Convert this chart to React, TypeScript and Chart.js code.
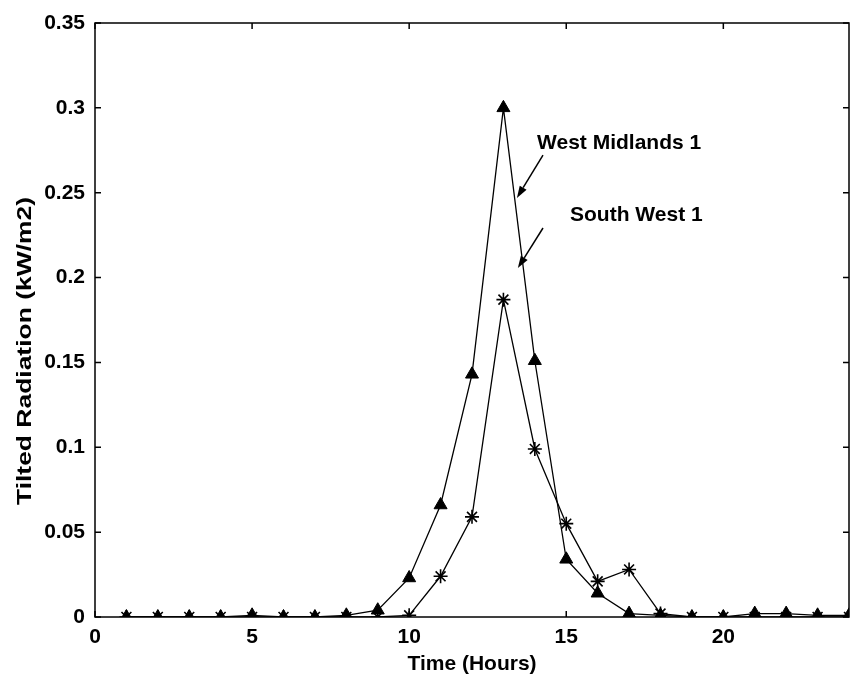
import React, { useEffect, useRef } from "react";
import { Chart, registerables } from "chart.js";

Chart.register(...registerables);

const hours = [1, 2, 3, 4, 5, 6, 7, 8, 9, 10, 11, 12, 13, 14, 15, 16, 17, 18, 19, 20, 21, 22, 23, 24];
const westMidlands = [0, 0, 0, 0, 0.001, 0, 0, 0.001, 0.004, 0.023, 0.066, 0.143, 0.3, 0.151, 0.034, 0.014, 0.002, 0.001, 0, 0, 0.002, 0.002, 0.001, 0.001];
const southWest = [0, 0, 0, 0, 0, 0, 0, 0, 0, 0.001, 0.024, 0.059, 0.187, 0.099, 0.055, 0.021, 0.028, 0.002, 0, 0, 0, 0, 0, 0];
const xTickValues = [0, 5, 10, 15, 20];
const yTickValues = [0, 0.05, 0.1, 0.15, 0.2, 0.25, 0.3, 0.35];
const xTitle = "Time (Hours)";
const yTitle = "Tilted Radiation (kW/m2)";
const labelWM = "West Midlands 1";
const labelSW = "South West 1";
// annotation anchors in data units: [labelX, labelY, arrowFromX, arrowFromY, arrowToX, arrowToY]
const annotWM = [14.07, 0.2793, 14.26, 0.2722, 13.43, 0.2469];
const annotSW = [15.12, 0.2369, 14.26, 0.2292, 13.46, 0.2056];

const FONT = '"Liberation Sans", Arial, Helvetica, sans-serif';

function fmt(v: number) {
  return String(Number(v.toFixed(2)));
}

const framePlugin = {
  id: "matlabFrame",
  afterDraw(chart: any) {
    const { ctx, chartArea, scales } = chart;
    const { left, right, top, bottom } = chartArea;
    const xs = scales.x;
    const ys = scales.y;
    ctx.save();
    ctx.strokeStyle = "#000";
    ctx.lineWidth = 1.5;
    ctx.strokeRect(left, top, right - left, bottom - top);
    const tl = 6;
    ctx.beginPath();
    xTickValues.forEach((v) => {
      const px = xs.getPixelForValue(v);
      ctx.moveTo(px, bottom);
      ctx.lineTo(px, bottom - tl);
      ctx.moveTo(px, top);
      ctx.lineTo(px, top + tl);
    });
    yTickValues.forEach((v) => {
      const py = ys.getPixelForValue(v);
      ctx.moveTo(left, py);
      ctx.lineTo(left + tl, py);
      ctx.moveTo(right, py);
      ctx.lineTo(right - tl, py);
    });
    ctx.stroke();

    // axis titles
    ctx.fillStyle = "#000";
    ctx.font = `bold 21px ${FONT}`;
    ctx.textAlign = "center";
    ctx.textBaseline = "alphabetic";
    ctx.fillText(xTitle, (left + right) / 2, 670);

    ctx.save();
    ctx.translate(25, 351);
    ctx.rotate(-Math.PI / 2);
    const w = ctx.measureText(yTitle).width;
    ctx.scale(308 / w, 1);
    ctx.textBaseline = "middle";
    ctx.fillText(yTitle, 0, 0);
    ctx.restore();

    // annotations
    const drawAnnot = (text: string, a: number[]) => {
      const lx = xs.getPixelForValue(a[0]);
      const ly = ys.getPixelForValue(a[1]);
      ctx.textAlign = "left";
      ctx.textBaseline = "middle";
      ctx.font = `bold 21px ${FONT}`;
      ctx.fillText(text, lx, ly);
      const x1 = xs.getPixelForValue(a[2]);
      const y1 = ys.getPixelForValue(a[3]);
      const x2 = xs.getPixelForValue(a[4]);
      const y2 = ys.getPixelForValue(a[5]);
      const ang = Math.atan2(y2 - y1, x2 - x1);
      const hl = 12;
      const hw = 4;
      const bx = x2 - hl * Math.cos(ang);
      const by = y2 - hl * Math.sin(ang);
      ctx.lineWidth = 1.5;
      ctx.beginPath();
      ctx.moveTo(x1, y1);
      ctx.lineTo(bx, by);
      ctx.stroke();
      ctx.beginPath();
      ctx.moveTo(x2, y2);
      ctx.lineTo(bx + hw * Math.sin(ang), by - hw * Math.cos(ang));
      ctx.lineTo(bx - hw * Math.sin(ang), by + hw * Math.cos(ang));
      ctx.closePath();
      ctx.fill();
    };
    drawAnnot(labelWM, annotWM);
    drawAnnot(labelSW, annotSW);
    ctx.restore();
  },
};

export default function App() {
  const ref = useRef<HTMLCanvasElement | null>(null);
  useEffect(() => {
    if (!ref.current) return;
    const chart = new Chart(ref.current, {
      type: "line",
      data: {
        datasets: [
          {
            label: labelWM,
            data: hours.map((h, i) => ({ x: h, y: westMidlands[i] })),
            borderColor: "#000",
            backgroundColor: "#000",
            borderWidth: 1.3,
            pointStyle: "triangle",
            pointRadius: 7.5,
            pointBackgroundColor: "#000",
            pointBorderColor: "#000",
            pointBorderWidth: 1,
            tension: 0,
          },
          {
            label: labelSW,
            data: hours.map((h, i) => ({ x: h, y: southWest[i] })),
            borderColor: "#000",
            backgroundColor: "#000",
            borderWidth: 1.3,
            pointStyle: "star",
            pointRadius: 7,
            pointBorderColor: "#000",
            pointBorderWidth: 1.6,
            tension: 0,
          },
        ],
      },
      options: {
        responsive: false,
        animation: false,
        devicePixelRatio: 1,
        layout: { autoPadding: false, padding: { top: 23, right: 2, left: 0, bottom: 0 } },
        plugins: { legend: { display: false }, tooltip: { enabled: false } },
        scales: {
          x: {
            type: "linear",
            min: 0,
            max: 24,
            grid: { display: false },
            border: { display: false },
            ticks: {
              color: "#000",
              font: { family: FONT, size: 21, weight: "bold" },
              padding: 0,
              maxRotation: 0,
              callback: (v: any) => fmt(Number(v)),
            },
            afterBuildTicks: (s: any) => {
              s.ticks = xTickValues.map((v) => ({ value: v }));
            },
            afterFit: (s: any) => {
              s.height = 62;
              s.paddingLeft = 0;
              s.paddingRight = 0;
            },
          },
          y: {
            type: "linear",
            min: 0,
            max: 0.35,
            grid: { display: false },
            border: { display: false },
            ticks: {
              color: "#000",
              font: { family: FONT, size: 21, weight: "bold" },
              padding: 2,
              callback: (v: any) => fmt(Number(v)),
            },
            afterBuildTicks: (s: any) => {
              s.ticks = yTickValues.map((v) => ({ value: v }));
            },
            afterFit: (s: any) => {
              s.width = 95;
              s.paddingTop = 0;
              s.paddingBottom = 0;
            },
          },
        },
      },
      plugins: [framePlugin],
    });
    return () => chart.destroy();
  }, []);
  return (
    <div style={{ position: "absolute", left: 0, top: 0, width: 851, height: 679, background: "#fff" }}>
      <canvas ref={ref} width={851} height={679} />
    </div>
  );
}
